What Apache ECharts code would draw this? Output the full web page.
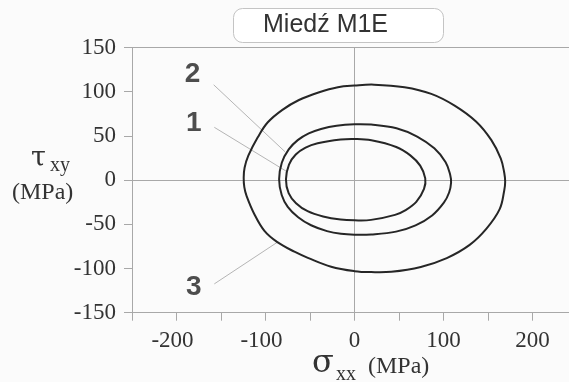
<!DOCTYPE html>
<html>
<head>
<meta charset="utf-8">
<script src="https://cdn.jsdelivr.net/npm/echarts@6/dist/echarts.min.js"></script>
<style>
html,body{margin:0;padding:0;background:#fbfbfb;}
#c{width:569px;height:382px;}
</style>
</head>
<body>
<div id="c"></div>
<script>
// Axis ranges and tick labels
const xTickLabels = [-200, -100, 0, 100, 200];
const yTickLabels = [-150, -100, -50, 0, 50, 100, 150];

// Curve 1 (inner), [sigma_xx, tau_xy] in MPa, traced around the loop
const curve1 = [
  [-77, 1], [-73.6, 17.6], [-66, 28.9], [-55, 36.7], [-41.4, 41.6], [-15.5, 45.9],
  [0, 46.5], [18.9, 45.1], [46.9, 37.5], [62.7, 28], [73.8, 16.4], [79.5, 2],
  [78.1, -9.9], [69.4, -24.7], [58, -33.6], [45.5, -39.3], [18.6, -45], [0, -45.5],
  [-15.6, -44.7], [-35.3, -41.2], [-52.7, -35.2], [-65.7, -26.1], [-74, -14.7]
];
// Curve 2 (middle)
const curve2 = [
  [-84.7, 1], [-81.7, 19.7], [-73.9, 34.7], [-63.8, 45.2], [-51.4, 52.8], [-37.6, 57.9],
  [-20.1, 61.6], [0, 63.2], [18.8, 62.8], [47.2, 58.7], [70.4, 49.3], [89.7, 35.9],
  [102.4, 20.2], [107.5, 6], [108.5, -3], [106.3, -14], [100.6, -25.2], [87.2, -40],
  [68.6, -51.2], [46.7, -58.3], [18.8, -61.5], [0, -61.8], [-15.2, -60.8], [-30.9, -57.7],
  [-48.8, -51.1], [-63.3, -42], [-75, -30.2], [-81.8, -16.8]
];
// Curve 3 (outer)
const curve3 = [
  [-124.5, 3], [-123.5, 14], [-119.3, 27.6], [-108.7, 48.4], [-97.4, 65.4], [-81, 79.5],
  [-62.4, 90.6], [-40.5, 99.1], [-18.7, 105.1], [0, 107], [22, 108], [56.2, 105.1],
  [86.3, 97.6], [112.5, 84.3], [136.5, 66.3], [153.8, 45.2], [164.4, 24.2], [168.3, 8],
  [169.3, -2], [168.2, -12], [163.1, -32.9], [148.3, -54.9], [129.4, -73.3], [103.7, -88.2],
  [74.5, -98.2], [41.3, -103.7], [18.8, -104.1], [0, -103], [-26.2, -98],
  [-52.4, -87.9], [-67.5, -81], [-87.1, -69.9], [-101.2, -57.5], [-112.5, -38.6],
  [-121.3, -17.8], [-123.8, -8]
];
const curves = [curve1, curve2, curve3];

// Annotation labels and leader lines (data coordinates)
const curveNames = ['1', '2', '3'];
const labelAnchors = [[-180.5, 64.5], [-182, 119.5], [-180.5, -121]];
const leaders = [
  [[-157.5, 59.7], [-75, 9]],
  [[-158.2, 107.8], [-78, 32]],
  [[-157.5, -117.4], [-87, -70.5]]
];

const chart = echarts.init(document.getElementById('c'), null, {renderer: 'canvas'});

const axisGray = '#a8a8a8';
const serif = '"Liberation Serif", "Times New Roman", serif';
const greek = '"DejaVu Serif", serif';
const sans = '"Liberation Sans", Arial, sans-serif';

const series = [];
curves.forEach((c, i) => {
  series.push({
    type: 'custom', name: 'curve' + curveNames[i], data: c, clip: false, z: 5,
    renderItem: (params, api) => {
      if (params.dataIndex !== 0) return null;
      const pts = c.map(p => api.coord(p));
      return {
        type: 'polygon',
        shape: {points: pts, smooth: 0.38},
        style: {fill: 'none', stroke: '#262626', lineWidth: 2}
      };
    }
  });
});
// zero lines
series.push({
  type: 'line', data: [], markLine: {
    silent: true, symbol: 'none', label: {show: false},
    lineStyle: {color: axisGray, width: 1, type: 'solid'},
    data: [{xAxis: 0}, {yAxis: 0}]
  }, z: 2
});
leaders.forEach(l => {
  series.push({
    type: 'line', data: l, showSymbol: false, symbol: 'none',
    lineStyle: {color: '#b5b5b5', width: 1}, z: 3
  });
});
series.push({
  type: 'scatter', symbolSize: 1, itemStyle: {color: 'rgba(0,0,0,0)'},
  data: labelAnchors.map((p, i) => ({value: p, name: curveNames[i]})),
  label: {show: true, position: 'inside', formatter: p => p.name,
    fontFamily: sans, fontWeight: 'bold', fontSize: 28, color: '#222'},
  z: 6
});

const tickFont = {fontFamily: serif, fontSize: 23, color: '#333'};

chart.setOption({
  backgroundColor: '#fbfbfb',
  animation: false,
  title: {
    text: 'Miedź M1E', left: 233, top: 8,
    padding: [5, 56, 5, 30],
    borderColor: '#c4c4c4', borderWidth: 1, borderRadius: 9, backgroundColor: '#ffffff',
    textStyle: {fontFamily: sans, fontWeight: 'normal', fontSize: 25, color: '#333', lineHeight: 25}
  },
  grid: {left: 132, top: 47.5, width: 445, height: 265.2, containLabel: false, outerBoundsMode: 'none'},
  xAxis: [{
    type: 'value', min: -250, max: 250, interval: 50,
    axisLine: {show: true, onZero: false, lineStyle: {color: axisGray, width: 1}},
    axisTick: {show: true, length: 8, lineStyle: {color: axisGray}},
    splitLine: {show: false},
    axisLabel: Object.assign({
      margin: 17,
      formatter: v => xTickLabels.indexOf(v) < 0 ? '' : (v < 0 ? '{neg|' + v + '}' : '{pos|' + v + '}'),
      rich: {
        neg: Object.assign({padding: [0, 8, 0, 0]}, tickFont),
        pos: Object.assign({}, tickFont)
      }
    }, tickFont)
  }, {
    type: 'value', position: 'top', min: -250, max: 250,
    axisLine: {show: true, onZero: false, lineStyle: {color: axisGray, width: 1}},
    axisTick: {show: false}, axisLabel: {show: false}, splitLine: {show: false}
  }],
  yAxis: {
    type: 'value', min: -150, max: 150, interval: 50,
    axisLine: {show: true, onZero: false, lineStyle: {color: axisGray, width: 1}},
    axisTick: {show: true, length: 8, lineStyle: {color: axisGray}},
    splitLine: {show: false},
    axisLabel: Object.assign({
      margin: 16,
      formatter: v => yTickLabels.indexOf(v) >= 0 ? String(v) : ''
    }, tickFont)
  },
  graphic: [
    {type: 'text', left: 31, top: 145, style: {text: 'τ', font: '27px ' + greek, fill: '#333'}},
    {type: 'text', left: 50, top: 156, style: {text: 'xy', font: '20px ' + serif, fill: '#333'}},
    {type: 'text', left: 12, top: 181, style: {text: '(MPa)', font: '24px ' + serif, fill: '#333'}},
    {type: 'text', left: 312, top: 348, style: {text: 'σ', font: '32px ' + greek, fill: '#333'}},
    {type: 'text', left: 336, top: 365, style: {text: 'xx', font: '20px ' + serif, fill: '#333'}},
    {type: 'text', left: 368, top: 355, style: {text: '(MPa)', font: '24px ' + serif, fill: '#333'}}
  ],
  series: series
});
</script>
</body>
</html>
